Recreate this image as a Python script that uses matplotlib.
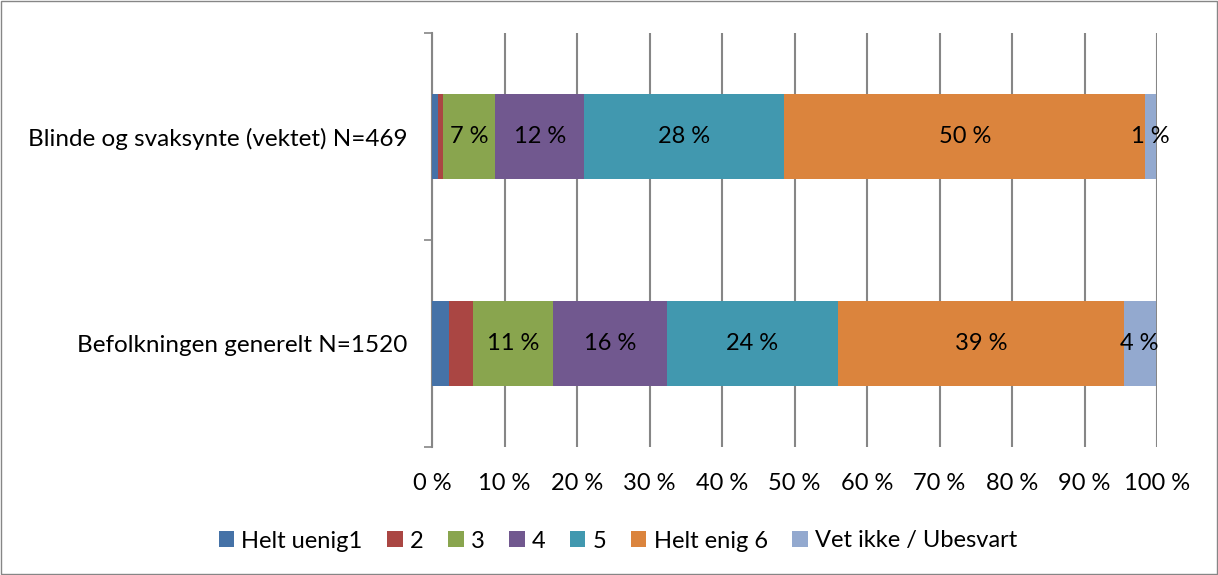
import matplotlib
matplotlib.use('Agg')
import matplotlib.pyplot as plt
import matplotlib.ticker as mticker
import numpy as np

groups = ["Befolkningen generelt N=1520", "Blinde og svaksynte (vektet) N=469"]
series = ["Helt uenig1", "2", "3", "4", "5", "Helt enig 6", "Vet ikke / Ubesvart"]
# values per series: [Befolkningen, Blinde]
values = {
    "Helt uenig1": [2.3, 0.8],
    "2": [3.4, 0.7],
    "3": [11.0, 7.2],
    "4": [15.7, 12.3],
    "5": [23.6, 27.6],
    "Helt enig 6": [39.4, 49.8],
    "Vet ikke / Ubesvart": [4.4, 1.4],
}
show_label = ["3", "4", "5", "Helt enig 6", "Vet ikke / Ubesvart"]
colors = ["#4572A7", "#AA4643", "#89A54E", "#71588F", "#4198AF", "#DB843D", "#93A9CF"]

plt.rcParams['font.family'] = ['Lato', 'DejaVu Sans']
FS = 17

fig = plt.figure(figsize=(12.18, 5.75), dpi=100)
ax = fig.add_axes([432 / 1218, 1 - 447 / 575, (1157 - 432) / 1218, (447 - 33) / 575])

y = np.arange(len(groups))
left = np.zeros(len(groups))
for s, c in zip(series, colors):
    v = np.array(values[s])
    ax.barh(y, v, left=left, height=0.41, color=c, label=s, zorder=3)
    if s in show_label:
        for yi, (l, w) in enumerate(zip(left, v)):
            ax.text(l + w / 2, yi, f"{round(w):.0f} %", ha="center", va="center",
                    fontsize=FS, color="black", zorder=4)
    left += v

ax.set_xlim(0, 100)
ax.set_ylim(-0.5, 1.5)
ax.xaxis.set_major_locator(mticker.MultipleLocator(10))
ax.xaxis.set_major_formatter(mticker.FuncFormatter(lambda v, p: f"{v:.0f} %"))
ax.grid(axis="x", color="#868686", linewidth=1.5, zorder=0)
ax.set_yticks(y)
ax.set_yticklabels(groups, fontsize=17.5)
ax.set_yticks([-0.5, 0.5, 1.5], minor=True)
ax.tick_params(axis="y", which="major", length=0, pad=18)
ax.tick_params(axis="y", which="minor", length=6, color="#868686", width=1.2)
ax.tick_params(axis="x", length=0, labelsize=FS, pad=19)
for sp in ["top", "right", "bottom"]:
    ax.spines[sp].set_visible(False)
ax.spines["left"].set_color("#868686")
ax.spines["left"].set_linewidth(1.5)

ax.legend(loc="center", bbox_to_anchor=(618 / 1218, 1 - 541 / 575), bbox_transform=fig.transFigure,
          ncol=7, frameon=False, fontsize=FS, handlelength=0.65, handleheight=0.65,
          handletextpad=0.3, columnspacing=1.05)

fig.add_artist(plt.Rectangle((0.001, 0.001), 0.998, 0.998, transform=fig.transFigure,
                             fill=False, edgecolor="#868686", linewidth=1))

plt.savefig("out.png", dpi=100)
plt.close()
